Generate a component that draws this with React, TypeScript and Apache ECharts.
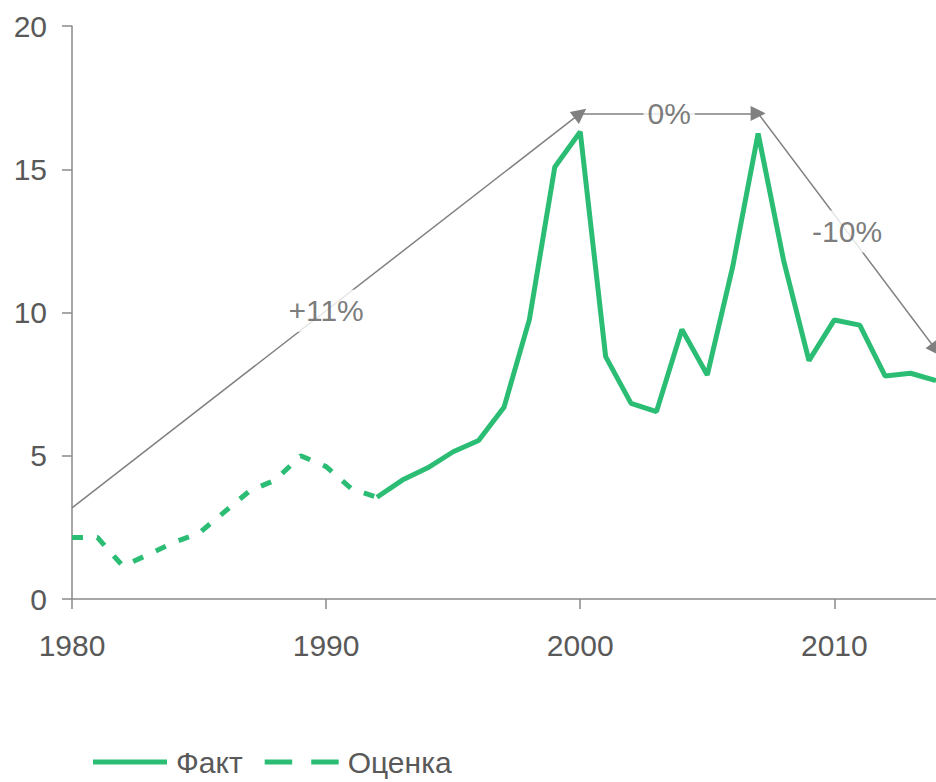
import React, { useEffect, useRef } from "react";
import * as echarts from "echarts";

const estimateYears = [1980, 1981, 1982, 1983, 1984, 1985, 1986, 1987, 1988, 1989, 1990, 1991, 1992];
const estimateValues = [2.15, 2.15, 1.15, 1.55, 1.97, 2.3, 3.04, 3.78, 4.15, 5.0, 4.62, 3.85, 3.55];

const factYears = [1992, 1993, 1994, 1995, 1996, 1997, 1998, 1999, 2000, 2001, 2002, 2003, 2004, 2005, 2006, 2007, 2008, 2009, 2010, 2011, 2012, 2013, 2014];
const factValues = [3.55, 4.15, 4.58, 5.14, 5.53, 6.69, 9.76, 15.08, 16.31, 8.46, 6.83, 6.54, 9.41, 7.82, 11.6, 16.25, 11.83, 8.32, 9.74, 9.56, 7.78, 7.88, 7.62];

const xTickLabels = [1980, 1990, 2000, 2010];
const yTickLabels = [0, 5, 10, 15, 20];

// trend arrows
const arrowStarts = [[1980, 3.18], [2000, 16.95], [2007, 16.95]];
const arrowEnds = [[2000, 16.95], [2007, 16.95], [2014, 8.7]];
const arrowLabels = ["+11%", "0%", "-10%"];

const GREEN = "#2cbd75";
const TEXT = "#595959";
const AXIS = "#8a8a8a";
const FONT = '"Liberation Sans", Arial, sans-serif';
const FS = 30;

export default function App() {
  const ref = useRef<HTMLDivElement>(null);
  useEffect(() => {
    document.body.style.margin = "0";
    if (!ref.current) return;
    const chart = echarts.init(ref.current, null, { renderer: "svg" });
    const estimateData = estimateYears.map((y, i) => [y, estimateValues[i]]);
    const factData = factYears.map((y, i) => [y, factValues[i]]);
    const markLineData = arrowStarts.map((s, i) => [
      { coord: s },
      { coord: arrowEnds[i] },
    ]);
    const labelData = arrowStarts.map((s, i) => [
      (s[0] + arrowEnds[i][0]) / 2,
      (s[1] + arrowEnds[i][1]) / 2,
      arrowLabels[i],
    ]);
    chart.setOption({
      animation: false,
      textStyle: { fontFamily: FONT },
      grid: { left: 72, right: 0, top: 26, bottom: 183, containLabel: false },
      legend: {
        left: 93,
        top: 746,
        padding: 0,
        itemWidth: 74,
        itemHeight: 5,
        itemGap: 22,
        symbolKeepAspect: false,
        textStyle: { color: TEXT, fontSize: FS, fontFamily: FONT, lineHeight: 32, padding: [0, 0, 0, 4] },
        data: [
          { name: "Факт", icon: "path://M0,0H74V5H0Z" },
          { name: "Оценка", icon: "path://M0,0H26V5H0Z M44,0H70V5H44Z" },
        ],
      },
      xAxis: {
        type: "value",
        min: 1980,
        max: 2014,
        interval: 10,
        splitLine: { show: false },
        axisLine: { show: true, lineStyle: { color: AXIS, width: 1.5 } },
        axisTick: { show: true, length: 10, lineStyle: { color: AXIS, width: 1.5 }, customValues: xTickLabels },
        axisLabel: {
          color: TEXT,
          fontSize: FS,
          fontFamily: FONT,
          lineHeight: 32,
          margin: 30,
          customValues: xTickLabels,
          formatter: (v: number) => String(v),
        },
      },
      yAxis: {
        type: "value",
        min: 0,
        max: 20,
        interval: 5,
        splitLine: { show: false },
        axisLine: { show: true, lineStyle: { color: AXIS, width: 1.5 } },
        axisTick: { show: true, length: 10, lineStyle: { color: AXIS, width: 1.5 }, customValues: yTickLabels },
        axisLabel: { color: TEXT, fontSize: FS, fontFamily: FONT, margin: 25, customValues: yTickLabels },
      },
      series: [
        {
          name: "Факт",
          type: "line",
          data: factData,
          symbol: "none",
          itemStyle: { color: GREEN },
          lineStyle: { color: GREEN, width: 5 },
          z: 3,
          markLine: {
            silent: true,
            symbol: ["none", "triangle"],
            symbolSize: 15,
            lineStyle: { color: "#808080", width: 1.5, type: "solid" },
            label: { show: false },
            data: markLineData,
          },
        },
        {
          name: "Оценка",
          type: "line",
          data: estimateData,
          symbol: "none",
          itemStyle: { color: GREEN },
          lineStyle: { color: GREEN, width: 5, type: [11, 14] },
          z: 3,
        },
        {
          name: "labels",
          type: "scatter",
          data: labelData,
          symbolSize: 1,
          itemStyle: { color: "rgba(0,0,0,0)" },
          silent: true,
          z: 10,
          label: {
            show: true,
            position: "inside",
            formatter: (p: any) => p.data[2],
            color: TEXT,
            fontSize: FS,
            fontFamily: FONT,
            backgroundColor: "#ffffff",
            padding: [6, 4],
          },
        },
      ],
    });
    return () => chart.dispose();
  }, []);
  return <div ref={ref} style={{ width: 936, height: 782 }} />;
}
